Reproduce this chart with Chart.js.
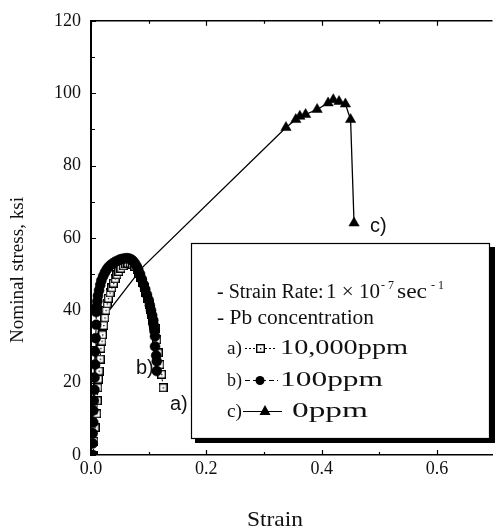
<!DOCTYPE html>
<html>
<head>
<meta charset="utf-8">
<script src="https://cdn.jsdelivr.net/npm/chart.js@4.4.1/dist/chart.umd.min.js"></script>
<style>
html,body{margin:0;padding:0;background:#fff;overflow:hidden}
#wrap{width:499px;height:529px;position:relative}
</style>
</head>
<body>
<div id="wrap"><canvas id="chart" width="499" height="529"></canvas></div>
<script>
// ---- data ----
// a) 10,000ppm (open squares)
const strainA = [0.004,0.005,0.007,0.010,0.011,0.012,0.013,0.014,0.016,0.017,0.019,0.020,
  0.022,0.024,0.026,0.028,0.030,0.033,0.036,0.039,0.042,0.045,0.048,0.052,0.056,0.060,0.064,0.068,
  0.072,0.076,0.080,0.083,0.086,0.089,0.092,0.095,0.098,0.101,0.103,0.105,0.107,0.109,
  0.111,0.114,0.1166,0.1195,0.1224,0.125];
const stressA = [0,3.8,7.6,11.4,15,18.6,21,23.2,26.5,29.5,31.5,33.2,
  35.8,37.9,40,41.8,43.3,44.8,46.2,47.5,48.7,49.8,50.7,51.6,52.3,52.8,53,53,
  52.7,52.1,51.2,50.2,49,47.7,46.3,44.8,43.2,41.6,40.2,38.7,37.2,35.8,
  35,31.8,28.2,25,22.3,18.6];
// b) 100ppm (filled circles)
const strainB = [0.003,0.003,0.003,0.004,0.004,0.005,0.006,0.006,0.007,0.007,0.008,0.009,
  0.009,0.010,0.011,0.012,0.014,0.016,0.018,0.021,0.024,0.027,0.030,0.034,0.038,0.042,0.046,0.050,
  0.054,0.058,0.062,0.066,0.070,0.073,0.076,0.079,0.082,0.085,0.088,0.091,0.094,0.097,0.100,
  0.102,0.104,0.106,0.108,0.109,0.110,0.111,0.111,0.113,0.114,0.114];
const stressB = [0,3.2,6,9,12.3,15,18,21.4,25,28.6,32.3,36,
  39.5,41,42.5,44,45.5,47,48.2,49.4,50.4,51.2,51.9,52.5,53,53.4,53.7,54,
  54.2,54.3,54.4,54.3,54,53.6,53,52.2,51.2,50,48.6,47.2,45.8,44.3,42.8,
  41.4,40,38.6,37.2,35.8,34.3,32.8,30,27.5,25.9,23.2];
// c) 0ppm (filled triangles)
const strainC = [0,0.003,0.006,0.009,0.013,0.018,0.027,0.069,0.090,0.338,0.355,0.362,0.372,0.392,0.411,0.420,0.430,0.441,0.450,0.456];
const stressC = [0,12,24,31,34.5,36.5,39,47.7,52,90.5,92.7,93.6,94.1,95.5,97.3,98.2,97.7,97.0,92.7,64.1];
const markerFromC = 9; // index of first visible triangle

const xTickLabels = ['0.0','0.2','0.4','0.6'];
const yTickLabels = ['0','20','40','60','80','100','120'];
const seriesNames = ['10,000ppm','100ppm','0ppm'];
const seriesTags = ['a)','b)','c)'];

const toXY = (xs, ys) => xs.map((x, i) => ({x: x, y: ys[i]}));

// square-with-dot marker
const sq = document.createElement('canvas');
sq.width = 9; sq.height = 9;
(function(){
  const c = sq.getContext('2d');
  c.fillStyle = '#fff'; c.fillRect(0,0,9,9);
  c.strokeStyle = '#000'; c.lineWidth = 1.4; c.strokeRect(0.7,0.7,7.6,7.6);
  c.fillStyle = '#000'; c.fillRect(4,4,1.3,1.3);
})();

function fitText(ctx, text, x, y, w) {
  const nat = ctx.measureText(text).width;
  ctx.save();
  ctx.translate(x, y);
  if (w) ctx.scale(w / nat, 1);
  ctx.fillText(text, 0, 0);
  ctx.restore();
}

const decor = {
  id: 'decor',
  afterDraw(chart) {
    const ctx = chart.ctx;
    const {left, top, right, bottom} = chart.chartArea;
    const xs = chart.scales.x, ys = chart.scales.y;
    ctx.save();
    ctx.strokeStyle = '#000';
    // top frame line
    ctx.lineWidth = 1.5;
    ctx.beginPath(); ctx.moveTo(left, top); ctx.lineTo(right, top); ctx.stroke();
    // inward ticks
    ctx.lineWidth = 1.2;
    ctx.beginPath();
    xs.ticks.forEach(t => {
      const px = Math.round(xs.getPixelForValue(t.value)) + 0.5;
      const major = Math.round(t.value * 10) % 2 === 0;
      const len = major ? 5 : 3;
      ctx.moveTo(px, bottom); ctx.lineTo(px, bottom - len);
      ctx.moveTo(px, top); ctx.lineTo(px, top + len);
    });
    ys.ticks.forEach(t => {
      const py = Math.round(ys.getPixelForValue(t.value)) + 0.5;
      const major = Math.round(t.value) % 20 === 0;
      const len = major ? 5 : 4;
      ctx.moveTo(left, py); ctx.lineTo(left + len, py);
    });
    ctx.stroke();

    // axis titles
    ctx.fillStyle = '#111';
    ctx.textBaseline = 'alphabetic';
    ctx.textAlign = 'left';
    ctx.font = '22px "Liberation Serif", serif';
    fitText(ctx, 'Strain', 247, 526, 56);
    ctx.save();
    ctx.translate(23, 343);
    ctx.rotate(-Math.PI / 2);
    ctx.font = '19px "Liberation Serif", serif';
    fitText(ctx, 'Nominal stress, ksi', 0, 0, 146);
    ctx.restore();

    // curve tags
    ctx.font = '20px "Liberation Sans", Arial, sans-serif';
    ctx.fillText(seriesTags[1], 136, 374);
    ctx.fillText(seriesTags[0], 170, 410);
    ctx.fillText(seriesTags[2], 370, 232);

    // legend box with shadow
    ctx.fillStyle = '#000';
    ctx.fillRect(195, 247, 300, 196);
    ctx.fillStyle = '#fff';
    ctx.fillRect(191, 243, 299, 196);
    ctx.lineWidth = 1.2;
    ctx.strokeRect(191.5, 243.5, 298, 195);

    ctx.fillStyle = '#111';
    ctx.font = '20px "Liberation Serif", serif';
    fitText(ctx, '- Strain Rate:', 217, 298, 0);
    fitText(ctx, '1 \u00d7 10', 326, 298, 54);
    fitText(ctx, 'sec', 397, 298, 30);
    ctx.font = '12px "Liberation Serif", serif';
    ctx.fillText('- 7', 381, 289);
    ctx.fillText('- 1', 431, 289);
    ctx.font = '20px "Liberation Serif", serif';
    fitText(ctx, '- Pb concentration', 217, 324, 157);

    ctx.font = '19px "Liberation Serif", serif';
    fitText(ctx, seriesTags[0], 227, 354, 15);
    fitText(ctx, seriesTags[1], 227, 386, 15);
    fitText(ctx, seriesTags[2], 227, 417, 15);
    ctx.font = '20px "Liberation Serif", serif';
    fitText(ctx, seriesNames[0], 280, 354, 128);
    fitText(ctx, seriesNames[1], 280, 386, 103);
    fitText(ctx, seriesNames[2], 292, 417, 76);

    // legend symbols
    ctx.strokeStyle = '#000';
    ctx.lineWidth = 1.2;
    ctx.setLineDash([2, 2]);
    ctx.beginPath(); ctx.moveTo(245, 348.5); ctx.lineTo(276, 348.5); ctx.stroke();
    ctx.setLineDash([5, 3]);
    ctx.beginPath(); ctx.moveTo(245, 380.5); ctx.lineTo(278, 380.5); ctx.stroke();
    ctx.setLineDash([]);
    ctx.beginPath(); ctx.moveTo(243, 411.5); ctx.lineTo(282, 411.5); ctx.stroke();
    ctx.drawImage(sq, 256, 344);
    ctx.fillStyle = '#000';
    ctx.beginPath(); ctx.arc(260, 380.5, 4.5, 0, Math.PI * 2); ctx.fill();
    ctx.beginPath(); ctx.moveTo(265, 405); ctx.lineTo(270.5, 415); ctx.lineTo(259.5, 415); ctx.closePath(); ctx.fill();
    ctx.restore();
  }
};

new Chart(document.getElementById('chart'), {
  type: 'scatter',
  data: {
    datasets: [
      {
        label: seriesNames[1],
        data: toXY(strainB, stressB),
        showLine: true,
        borderColor: '#000', borderWidth: 1, borderDash: [5, 3],
        pointStyle: 'circle', pointRadius: 5,
        pointBackgroundColor: '#000', pointBorderColor: '#000', pointBorderWidth: 0.5,
        order: 1
      },
      {
        label: seriesNames[0],
        data: toXY(strainA, stressA),
        showLine: true,
        borderColor: '#000', borderWidth: 1, borderDash: [2, 2],
        pointStyle: sq, pointRadius: 4.5,
        order: 2
      },
      {
        label: seriesNames[2],
        data: toXY(strainC, stressC),
        showLine: true,
        borderColor: '#000', borderWidth: 1.3,
        pointStyle: 'triangle',
        pointRadius: strainC.map((v, i) => i >= markerFromC ? 6 : 0),
        pointBackgroundColor: '#000', pointBorderColor: '#000', pointBorderWidth: 0.5,
        order: 3
      }
    ]
  },
  options: {
    responsive: false,
    animation: false,
    devicePixelRatio: 1,
    layout: {padding: {top: 15, right: 0, left: 0, bottom: 0}},
    plugins: {legend: {display: false}, tooltip: {enabled: false}},
    scales: {
      x: {
        type: 'linear', min: 0, max: 0.696,
        afterFit: s => { s.height = 74; },
        grid: {display: false, drawTicks: false},
        border: {display: true, color: '#000', width: 1.5},
        ticks: {
          stepSize: 0.1, includeBounds: false, padding: 3, maxRotation: 0, autoSkip: false,
          color: '#111', font: {family: '"Liberation Serif", serif', size: 18},
          callback: v => { const k = Math.round(v * 10); return k % 2 === 0 ? xTickLabels[k / 2] : ''; }
        },
        title: {display: false}
      },
      y: {
        type: 'linear', min: 0, max: 120,
        afterFit: s => { s.width = 91; },
        grid: {display: false, drawTicks: false},
        border: {display: true, color: '#000', width: 2},
        ticks: {
          stepSize: 10, padding: 10, autoSkip: false,
          color: '#111', font: {family: '"Liberation Serif", serif', size: 18},
          callback: v => { const k = Math.round(v); return k % 20 === 0 ? yTickLabels[k / 20] : ''; }
        },
        title: {display: false}
      }
    }
  },
  plugins: [decor]
});
</script>
</body>
</html>
